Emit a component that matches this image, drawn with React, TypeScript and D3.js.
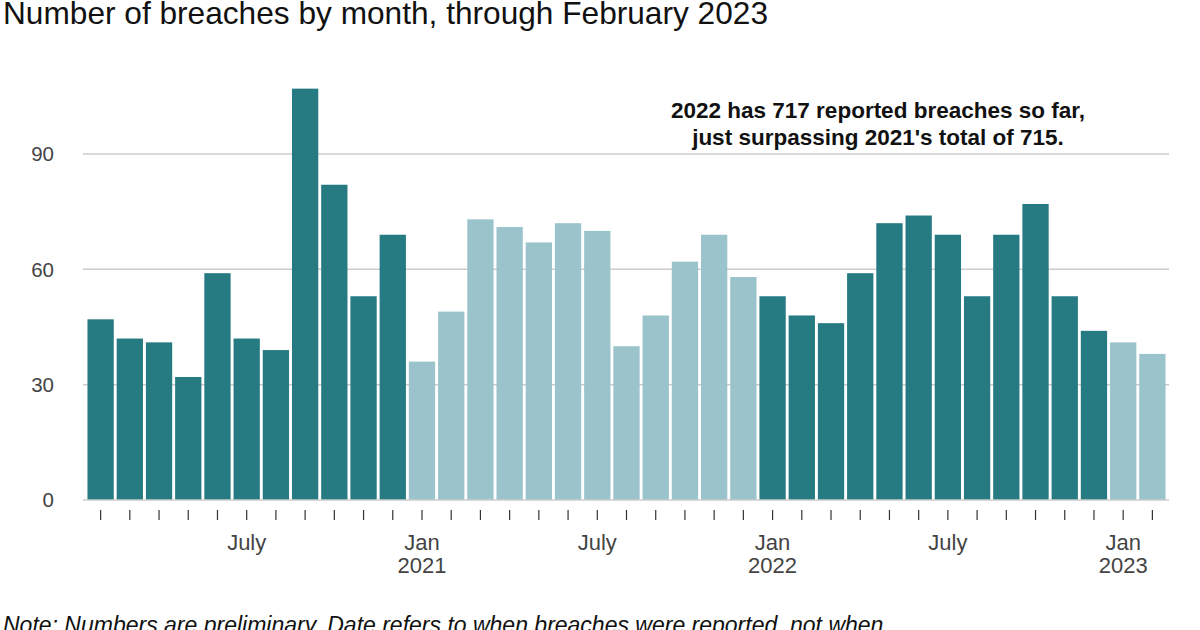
import React from "react";
import * as d3 from "d3";

const months: string[] = [
  "2020-02","2020-03","2020-04","2020-05","2020-06","2020-07","2020-08","2020-09","2020-10","2020-11","2020-12",
  "2021-01","2021-02","2021-03","2021-04","2021-05","2021-06","2021-07","2021-08","2021-09","2021-10","2021-11","2021-12",
  "2022-01","2022-02","2022-03","2022-04","2022-05","2022-06","2022-07","2022-08","2022-09","2022-10","2022-11","2022-12",
  "2023-01","2023-02",
];
const breaches: number[] = [
  47, 42, 41, 32, 59, 42, 39, 107, 82, 53, 69,
  36, 49, 73, 71, 67, 72, 70, 40, 48, 62, 69, 58,
  53, 48, 46, 59, 72, 74, 69, 53, 69, 77, 53, 44,
  41, 38,
];
const yTicks: number[] = [0, 30, 60, 90];
const xLabels: { month: string; lines: string[] }[] = [
  { month: "2020-07", lines: ["July"] },
  { month: "2021-01", lines: ["Jan", "2021"] },
  { month: "2021-07", lines: ["July"] },
  { month: "2022-01", lines: ["Jan", "2022"] },
  { month: "2022-07", lines: ["July"] },
  { month: "2023-01", lines: ["Jan", "2023"] },
];
const darkYears = ["2020", "2022"];
const title = "Number of breaches by month, through February 2023";
const annotation = ["2022 has 717 reported breaches so far,", "just surpassing 2021's total of 715."];
const note = "Note: Numbers are preliminary. Date refers to when breaches were reported, not when";

export default function App() {
  const W = 1200, H = 630;
  const x = d3.scaleBand<string>().domain(months).range([86, 1167]).paddingInner(0.1).paddingOuter(0.05);
  const y = d3.scaleLinear().domain([0, 90]).range([500, 154]);
  const font = "'Liberation Sans', Arial, sans-serif";
  return (
    <svg width={W} height={H} style={{ position: "absolute", left: 0, top: 0, background: "#fff" }} fontFamily={font}>
      <rect width={W} height={H} fill="#fff" />
      <text x={3} y={24} fontSize={31.5} fill="#111" textLength={765} lengthAdjust="spacingAndGlyphs">{title}</text>
      {yTicks.map((t) => (
        <g key={t}>
          {t > 0 && <line x1={83} x2={1169} y1={y(t)} y2={y(t)} stroke="#cccccc" strokeWidth={1.5} />}
          <text x={54} y={y(t)} dy="0.35em" textAnchor="end" fontSize={20.5} fill="#444">{t}</text>
        </g>
      ))}
      {months.map((m, i) => (
        <rect key={m} x={x(m)} y={y(breaches[i])} width={x.bandwidth()} height={y(0) - y(breaches[i])}
          fill={darkYears.includes(m.slice(0, 4)) ? "#267a82" : "#9bc3cc"} />
      ))}
      <line x1={83} x2={1169} y1={y(0)} y2={y(0)} stroke="#cccccc" strokeWidth={1.5} />
      {months.map((m) => (
        <line key={"t" + m} x1={x(m)! + x.bandwidth() / 2} x2={x(m)! + x.bandwidth() / 2} y1={510} y2={520} stroke="#333" strokeWidth={1.2} />
      ))}
      {xLabels.map((l) => (
        <text key={l.month} x={x(l.month)! + x.bandwidth() / 2} y={550} textAnchor="middle" fontSize={22} fill="#444">
          {l.lines.map((s, k) => (
            <tspan key={k} x={x(l.month)! + x.bandwidth() / 2} y={550 + k * 23}>{s}</tspan>
          ))}
        </text>
      ))}
      <text x={878} y={0} textAnchor="middle" fontSize={22.5} fontWeight="bold" fill="#111">
        {annotation.map((s, k) => (
          <tspan key={k} x={878} y={118 + k * 27}>{s}</tspan>
        ))}
      </text>
      <text x={3} y={633} fontSize={23} fontStyle="italic" fill="#111">{note}</text>
    </svg>
  );
}
